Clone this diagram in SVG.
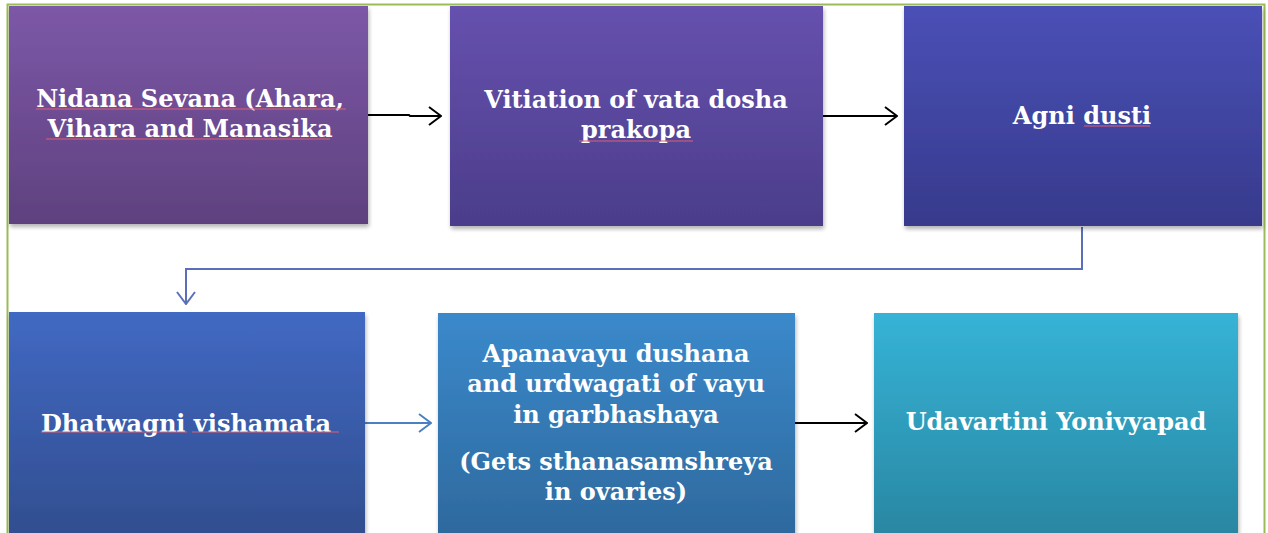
<svg xmlns="http://www.w3.org/2000/svg" width="1268" height="533" viewBox="0 0 1268 533">
<style>
.t{font-family:"DejaVu Serif","Liberation Serif",serif;font-weight:bold;font-size:24px;fill:#ffffff;text-anchor:middle}
.sq{stroke:#e06070;stroke-width:1;fill:none}
.blk{stroke:#000;stroke-width:2;fill:none}
</style>
<defs>
<linearGradient id="g1" x1="0" y1="0" x2="0" y2="1"><stop offset="0" stop-color="#7c58a7"/><stop offset="1" stop-color="#5f417f"/></linearGradient>
<linearGradient id="g2" x1="0" y1="0" x2="0" y2="1"><stop offset="0" stop-color="#6651ae"/><stop offset="1" stop-color="#4b3d8a"/></linearGradient>
<linearGradient id="g3" x1="0" y1="0" x2="0" y2="1"><stop offset="0" stop-color="#4a50b6"/><stop offset="1" stop-color="#373a8c"/></linearGradient>
<linearGradient id="g4" x1="0" y1="0" x2="0" y2="1"><stop offset="0" stop-color="#4169c3"/><stop offset="1" stop-color="#314d8e"/></linearGradient>
<linearGradient id="g5" x1="0" y1="0" x2="0" y2="1"><stop offset="0" stop-color="#3b89cb"/><stop offset="1" stop-color="#2d689c"/></linearGradient>
<linearGradient id="g6" x1="0" y1="0" x2="0" y2="1"><stop offset="0" stop-color="#35b3d7"/><stop offset="1" stop-color="#2985a0"/></linearGradient>
<filter id="sh" x="-5%" y="-5%" width="110%" height="115%"><feGaussianBlur in="SourceAlpha" stdDeviation="2"/><feOffset dx="1" dy="3"/><feComponentTransfer><feFuncA type="linear" slope="0.3"/></feComponentTransfer><feMerge><feMergeNode/><feMergeNode in="SourceGraphic"/></feMerge></filter>
<marker id="ab" viewBox="0 0 14 20" refX="13" refY="10" markerWidth="14" markerHeight="20" markerUnits="userSpaceOnUse" orient="auto"><path d="M1,1 L13,10 L1,19" fill="none" stroke="#000" stroke-width="2"/></marker>
<marker id="au" viewBox="0 0 14 20" refX="13" refY="10" markerWidth="14" markerHeight="20" markerUnits="userSpaceOnUse" orient="auto"><path d="M1,1 L13,10 L1,19" fill="none" stroke="#5a6fb8" stroke-width="2"/></marker>
<marker id="as" viewBox="0 0 14 20" refX="13" refY="10" markerWidth="14" markerHeight="20" markerUnits="userSpaceOnUse" orient="auto"><path d="M1,1 L13,10 L1,19" fill="none" stroke="#4c80c2" stroke-width="2"/></marker>
</defs>
<rect width="1268" height="533" fill="#ffffff"/>
<rect id="frame" x="7.5" y="4.5" width="1257" height="560" fill="none" stroke="#9bbb59" stroke-width="2"/>
<g id="connectors">
<path class="blk" d="M368,115 L409,115 L410,116 L441,116" marker-end="url(#ab)"/>
<path class="blk" d="M823,116 L897,116" marker-end="url(#ab)"/>
<path d="M1082,227 L1082,269 L186,269 L186,304" fill="none" stroke="#5a6fb8" stroke-width="2" marker-end="url(#au)"/>
<path d="M365,423 L431,423" fill="none" stroke="#4c80c2" stroke-width="2" marker-end="url(#as)"/>
<path class="blk" d="M795,423 L867,423" marker-end="url(#ab)"/>
</g>
<g id="n1">
<rect x="9" y="6" width="359" height="218" fill="url(#g1)" filter="url(#sh)"/>
<text class="t" x="190" y="107">Nidana Sevana (Ahara,</text>
<text class="t" x="190" y="137">Vihara and Manasika</text>
<path class="sq" d="M36,109 H346 M46,139 H330"/>
</g>
<g id="n2">
<rect x="450" y="6" width="373" height="220" fill="url(#g2)" filter="url(#sh)"/>
<text class="t" x="636" y="108">Vitiation of vata dosha</text>
<text class="t" x="636" y="138">prakopa</text>
<path class="sq" d="M579,141 H693"/>
</g>
<g id="n3">
<rect x="904" y="6" width="358" height="220" fill="url(#g3)" filter="url(#sh)"/>
<text class="t" x="1082" y="124">Agni dusti</text>
<path class="sq" d="M1084,126 H1150"/>
</g>
<g id="n4">
<rect x="9" y="312" width="356" height="230" fill="url(#g4)" filter="url(#sh)"/>
<text class="t" x="186" y="432">Dhatwagni vishamata</text>
<path class="sq" d="M41,432 H187 M192,432 H339"/>
</g>
<g id="n5">
<rect x="438" y="313" width="357" height="230" fill="url(#g5)" filter="url(#sh)"/>
<text class="t" x="616" y="362">Apanavayu dushana</text>
<text class="t" x="616" y="392">and urdwagati of vayu</text>
<text class="t" x="616" y="423">in garbhashaya</text>
<text class="t" x="616" y="470">(Gets sthanasamshreya</text>
<text class="t" x="616" y="500">in ovaries)</text>
</g>
<g id="n6">
<rect x="874" y="313" width="364" height="230" fill="url(#g6)" filter="url(#sh)"/>
<text class="t" x="1056" y="430">Udavartini Yonivyapad</text>
</g>
</svg>
